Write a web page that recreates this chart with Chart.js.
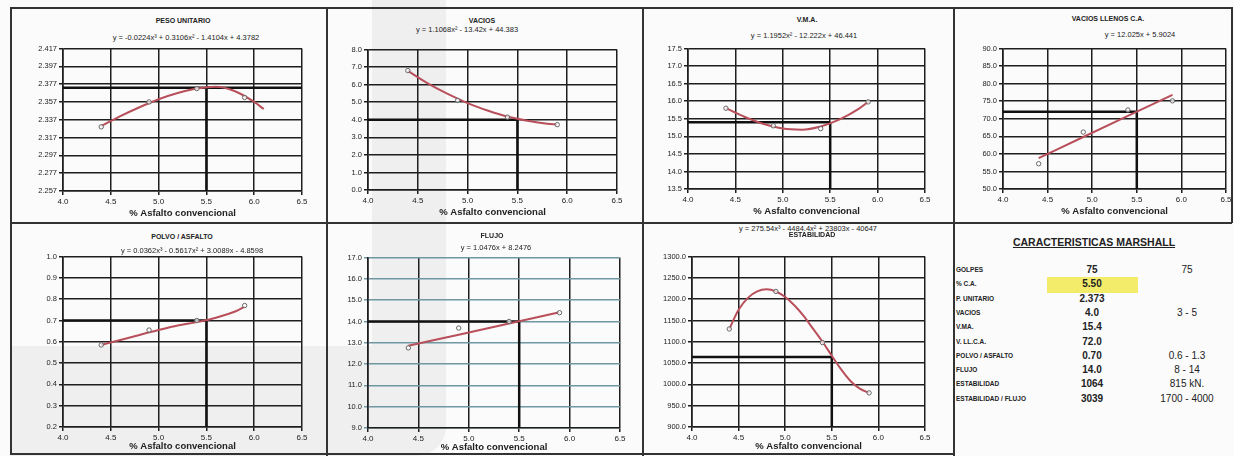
<!DOCTYPE html>
<html lang="es">
<head>
<meta charset="UTF-8">
<title>Caracteristicas Marshall</title>
<script src="https://cdn.jsdelivr.net/npm/chart.js@4.4.0/dist/chart.umd.min.js"></script>
<style>
*{margin:0;padding:0;box-sizing:border-box;}
body{width:1234px;height:456px;background:#fbfbfb;position:relative;overflow:hidden;
  font-family:"Liberation Sans",Arial,sans-serif;color:#222;}
.wm{position:absolute;background:#efefef;}
.ln{position:absolute;background:#333;}
canvas{position:absolute;}
.t{position:absolute;transform:translateX(-50%);white-space:nowrap;font-size:7px;font-weight:bold;line-height:8px;}
.eq{position:absolute;transform:translateX(-50%);white-space:nowrap;font-size:7.5px;line-height:9px;}
#tabla{position:absolute;left:0;top:0;}
#tabla h4{position:absolute;left:1094px;top:236px;transform:translateX(-50%);font-size:10.5px;text-decoration:underline;white-space:nowrap;}
.lab{position:absolute;left:956px;font-size:6.5px;font-weight:bold;white-space:nowrap;}
.val{position:absolute;left:1092px;transform:translateX(-50%);font-size:10px;font-weight:bold;white-space:nowrap;}
.lim{position:absolute;left:1187px;transform:translateX(-50%);font-size:10px;white-space:nowrap;}
#amarillo{position:absolute;left:1047px;top:277px;width:91px;height:16px;background:#f2ec6a;}
</style>
</head>
<body>
<!-- marca de agua gris del escaneo -->
<div class="wm" style="left:372px;top:0;width:74px;height:456px;border-radius:0 0 30px 0"></div>
<div class="wm" style="left:10px;top:346px;width:436px;height:110px;border-radius:0 0 40px 0"></div>

<!-- marcos -->
<div class="ln" style="left:10px;top:7px;width:1222px;height:1.5px"></div>
<div class="ln" style="left:10px;top:222px;width:1222px;height:1.5px"></div>
<div class="ln" style="left:10px;top:453px;width:943px;height:1.5px"></div>
<div class="ln" style="left:10px;top:7px;width:1.5px;height:447px"></div>
<div class="ln" style="left:326px;top:7px;width:1.5px;height:449px"></div>
<div class="ln" style="left:642px;top:7px;width:1.5px;height:449px"></div>
<div class="ln" style="left:953px;top:7px;width:1.5px;height:449px"></div>
<div class="ln" style="left:1231px;top:7px;width:1.5px;height:216px"></div>

<div id="charts"></div>
<div id="tabla"></div>

<script>
// % asfalto de las briquetas
const asfalto = [4.4, 4.9, 5.4, 5.9];
const xTicks = [4.0, 4.5, 5.0, 5.5, 6.0, 6.5];
const xOptimo = 5.5;

// valores medidos
const pesoObs  = [2.329, 2.357, 2.372, 2.362];
const vaciosObs = [6.80, 5.10, 4.15, 3.72];
const vmaObs   = [15.80, 15.30, 15.22, 15.98];
const vllObs   = [57.2, 66.2, 72.5, 75.1];
const polvoObs = [0.585, 0.655, 0.700, 0.770];
const flujoObs = [12.76, 13.69, 14.00, 14.41];
const estabObs = [1130, 1218, 1098, 980];

// lineas de tendencia
const fitX     = [4.4, 4.6, 4.8, 5.0, 5.2, 5.4, 5.6, 5.8, 5.9];
const pesoFitX = [4.4, 4.6, 4.8, 5.0, 5.2, 5.4, 5.6, 5.8, 6.0, 6.1];
const pesoFit  = [2.330, 2.341, 2.351, 2.360, 2.367, 2.372, 2.374, 2.369, 2.357, 2.349];
const vaciosFit = [6.78, 6.07, 5.47, 4.95, 4.53, 4.18, 3.94, 3.77, 3.73];
const vmaFit   = [15.80, 15.55, 15.35, 15.22, 15.19, 15.28, 15.48, 15.78, 15.98];
const vllFitX  = [4.4, 4.9, 5.4, 5.9];
const vllFit   = [58.8, 64.8, 70.8, 76.8];
const polvoFit = [0.585, 0.608, 0.632, 0.655, 0.676, 0.692, 0.713, 0.742, 0.765];
const flujoFitX = [4.4, 4.9, 5.4, 5.9];
const flujoFit = [12.86, 13.38, 13.90, 14.43];
const estabFitX = [4.4, 4.5, 4.6, 4.7, 4.8, 4.9, 5.0, 5.1, 5.2, 5.3, 5.4, 5.5, 5.6, 5.7, 5.8, 5.9];
const estabFit  = [1130, 1175, 1203, 1218, 1223, 1218, 1205, 1185, 1160, 1130, 1100, 1067, 1035, 1008, 990, 980];

// ticks del eje y
const pesoTicks  = [2.257, 2.277, 2.297, 2.317, 2.337, 2.357, 2.377, 2.397, 2.417];
const vaciosTicks = [0, 1, 2, 3, 4, 5, 6, 7, 8];
const vmaTicks   = [13.5, 14.0, 14.5, 15.0, 15.5, 16.0, 16.5, 17.0, 17.5];
const vllTicks   = [50, 55, 60, 65, 70, 75, 80, 85, 90];
const polvoTicks = [0.2, 0.3, 0.4, 0.5, 0.6, 0.7, 0.8, 0.9, 1.0];
const flujoTicks = [9, 10, 11, 12, 13, 14, 15, 16, 17];
const estabTicks = [900, 950, 1000, 1050, 1100, 1150, 1200, 1250, 1300];

// tabla resumen
const tablaLabels = ["GOLPES","% C.A.","P. UNITARIO","VACIOS","V.MA.","V. LL.C.A.","POLVO / ASFALTO","FLUJO","ESTABILIDAD","ESTABILIDAD / FLUJO"];
const tablaValores = ["75","5.50","2.373","4.0","15.4","72.0","0.70","14.0","1064","3039"];
const tablaLimites = ["75","","","3 - 5","","","0.6 - 1.3","8 - 14","815 kN.","1700 - 4000"];
const resultado = {peso:2.373, vacios:4.0, vma:15.4, vll:72.0, polvo:0.70, flujo:14.0, estab:1064};

const rojo = "#b84f5a";

function pts(xs, ys){ return xs.map((x,i)=>({x:x, y:ys[i]})); }

function addText(cls, txt, cx, cy){
    var d = document.createElement("div");
    d.className = cls;
    d.textContent = txt;
    d.style.left = cx+"px";
    d.style.top = (cy-4.5)+"px";
    document.body.appendChild(d);
}

// c: {L,R,T,B, fitX, fit, obs, yTicks, dec, ref, refFull, hGrid, padB}
function grafico(c){
    var cv = document.createElement("canvas");
    var padL = 40, padT = 6, padR = 14, padB = c.padB || 30;
    cv.width = (c.R-c.L)+padL+padR;
    cv.height = (c.B-c.T)+padT+padB;
    cv.style.left = (c.L-padL)+"px";
    cv.style.top = (c.T-padT)+"px";
    document.getElementById("charts").appendChild(cv);

    var yMin = c.yTicks[0], yMax = c.yTicks[c.yTicks.length-1];
    var hLine = [{x:4.0,y:c.ref},{x:c.refFull?6.5:xOptimo,y:c.ref}];
    var vLine = [{x:xOptimo,y:c.ref},{x:xOptimo,y:yMin}];

    new Chart(cv,{
        type:"scatter",
        data:{datasets:[
            {data:pts(asfalto,c.obs), pointRadius:2.2, pointBorderWidth:1,
             pointBorderColor:"#666", pointBackgroundColor:"rgba(255,255,255,0.7)"},
            {data:pts(c.fitX,c.fit), showLine:true, borderColor:rojo, borderWidth:2,
             pointRadius:0, cubicInterpolationMode:"monotone"},
            {data:hLine, showLine:true, borderColor:"#111", borderWidth:2.5, pointRadius:0},
            {data:vLine, showLine:true, borderColor:"#111", borderWidth:2.5, pointRadius:0}
        ]},
        options:{
            responsive:false, animation:false,
            layout:{padding:{left:0,top:padT,right:padR,bottom:0}},
            plugins:{legend:{display:false}, tooltip:{enabled:false}},
            scales:{
                x:{type:"linear", min:4.0, max:6.5,
                    afterBuildTicks:function(s){ s.ticks = xTicks.map(v=>({value:v})); },
                    afterFit:function(s){ s.height = padB; },
                    ticks:{callback:v=>v.toFixed(1), font:{size:8,family:"Liberation Sans"}, color:"#222",
                        padding:2, maxRotation:0, autoSkip:false},
                    grid:{color:"#1e1e1e", lineWidth:1.5, tickLength:4},
                    border:{color:"#1e1e1e", width:1.6},
                    title:{display:true, text:"% Asfalto convencional", color:"#222",
                        font:{size:9.5,weight:"bold",family:"Liberation Sans"}, padding:{top:0,bottom:2}}
                },
                y:{min:yMin, max:yMax,
                    afterBuildTicks:function(s){ s.ticks = c.yTicks.map(v=>({value:v})); },
                    afterFit:function(s){ s.width = padL; },
                    ticks:{callback:v=>v.toFixed(c.dec), font:{size:7.5,family:"Liberation Sans"}, color:"#222",
                        padding:2, autoSkip:false},
                    grid:{color:c.hGrid||"#1e1e1e", lineWidth:1.5, tickLength:4},
                    border:{color:"#1e1e1e", width:1.6}
                }
            }
        }
    });
}

// fila superior
grafico({L:63,R:302,T:48,B:191, fitX:pesoFitX, fit:pesoFit, obs:pesoObs, yTicks:pesoTicks, dec:3, ref:resultado.peso, refFull:true});
addText("t","PESO UNITARIO",183,21);
addText("eq","y = -0.0224x³ + 0.3106x² - 1.4104x + 4.3782",186,37);

grafico({L:368,R:617,T:49,B:190, fitX:fitX, fit:vaciosFit, obs:vaciosObs, yTicks:vaciosTicks, dec:1, ref:resultado.vacios});
addText("t","VACIOS",482,21);
addText("eq","y = 1.1068x² - 13.42x + 44.383",467,29);

grafico({L:688,R:925,T:48,B:189, fitX:fitX, fit:vmaFit, obs:vmaObs, yTicks:vmaTicks, dec:1, ref:resultado.vma});
addText("t","V.M.A.",807,20);
addText("eq","y = 1.1952x² - 12.222x + 46.441",804,35);

grafico({L:1003,R:1226,T:48,B:189, fitX:vllFitX, fit:vllFit, obs:vllObs, yTicks:vllTicks, dec:1, ref:resultado.vll});
addText("t","VACIOS LLENOS C.A.",1108,19);
addText("eq","y = 12.025x + 5.9024",1140,34);

// fila inferior
grafico({L:63,R:302,T:256,B:427, padB:27, fitX:fitX, fit:polvoFit, obs:polvoObs, yTicks:polvoTicks, dec:1, ref:resultado.polvo});
addText("t","POLVO / ASFALTO",182,237);
addText("eq","y = 0.0362x³ - 0.5617x² + 3.0089x - 4.8598",192,250);

grafico({L:368,R:620,T:257,B:428, padB:27, fitX:flujoFitX, fit:flujoFit, obs:flujoObs, yTicks:flujoTicks, dec:1, ref:resultado.flujo, hGrid:"#6f98a3"});
addText("t","FLUJO",492,236);
addText("eq","y = 1.0476x + 8.2476",496,247);

grafico({L:692,R:925,T:256,B:427, padB:27, fitX:estabFitX, fit:estabFit, obs:estabObs, yTicks:estabTicks, dec:1, ref:resultado.estab});
addText("eq","y = 275.54x³ - 4484.4x² + 23803x - 40647",808,228);
addText("t","ESTABILIDAD",812,235);

// tabla CARACTERISTICAS MARSHALL
var tb = document.getElementById("tabla");
tb.innerHTML = '<div id="amarillo"></div><h4>CARACTERISTICAS MARSHALL</h4>';
tablaLabels.forEach(function(lb,i){
    var y = 270 + i*14.3;
    tb.innerHTML += '<div class="lab" style="top:'+(y-4)+'px">'+lb+'</div>'+
        '<div class="val" style="top:'+(y-6)+'px">'+tablaValores[i]+'</div>'+
        '<div class="lim" style="top:'+(y-6)+'px">'+tablaLimites[i]+'</div>';
});
</script>
</body>
</html>
